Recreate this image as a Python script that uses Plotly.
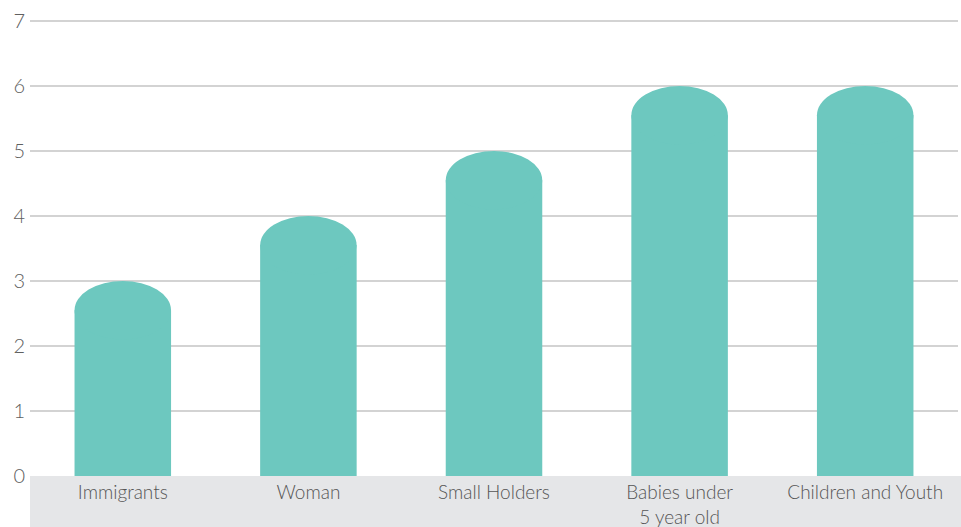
import plotly.graph_objects as go

categories = ["Immigrants", "Woman", "Small Holders", "Babies under<br>5 year old", "Children and Youth"]
values = [3, 4, 5, 6, 6]
y_ticks = [0, 1, 2, 3, 4, 5, 6, 7]

BAR_COLOR = "#6dc8bf"
BAR_WIDTH = 0.52
CAP = 0.45  # vertical half-axis of the rounded top, in data units

fig = go.Figure()
fig.add_trace(go.Bar(
    x=categories,
    y=[v - CAP for v in values],
    width=BAR_WIDTH,
    marker=dict(color=BAR_COLOR, line=dict(width=0)),
    hoverinfo="skip",
))

shapes = [
    dict(type="rect", xref="paper", yref="paper", x0=0, x1=1.01, y0=-0.2, y1=0,
         fillcolor="#e5e6e8", line=dict(width=0), layer="below"),
]
for i, v in enumerate(values):
    shapes.append(dict(
        type="circle", xref="x", yref="y",
        x0=i - BAR_WIDTH / 2, x1=i + BAR_WIDTH / 2,
        y0=v - 2 * CAP, y1=v,
        fillcolor=BAR_COLOR, line=dict(width=0), layer="above",
    ))

fig.update_layout(
    width=961, height=527,
    margin=dict(l=30, r=3, t=19, b=51),
    plot_bgcolor="white", paper_bgcolor="white",
    showlegend=False,
    shapes=shapes,
    font=dict(family="Lato", size=20, color="#666666", weight=300),
    xaxis=dict(
        type="category", showgrid=False, showline=False, ticks="",
        tickfont=dict(size=19, color="#555555", weight=300),
        ticklabelstandoff=3, automargin=False,
        range=[-0.5, len(categories) - 0.5],
    ),
    yaxis=dict(
        range=[0, 7.03], tickvals=y_ticks, showgrid=True, gridcolor="#d3d3d3", gridwidth=2,
        zeroline=False, showline=False, ticks="", automargin=False,
        tickfont=dict(size=20, color="#606060", weight=300),
        ticklabelstandoff=4,
    ),
)

fig.write_html("out.html")
